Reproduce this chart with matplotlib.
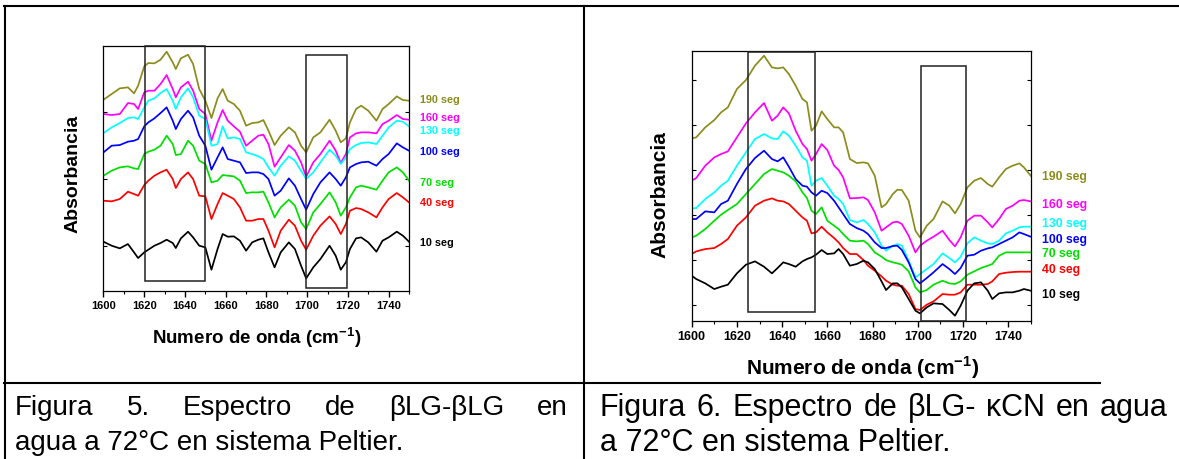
import matplotlib
matplotlib.use('Agg')
import matplotlib.pyplot as plt
from matplotlib.patches import Rectangle
from matplotlib.lines import Line2D
from matplotlib.ticker import MultipleLocator

plt.rcParams['font.family'] = ['Liberation Sans', 'DejaVu Sans']
plt.rcParams['mathtext.fontset'] = 'custom'
plt.rcParams['mathtext.rm'] = 'Liberation Sans:bold'
plt.rcParams['mathtext.bf'] = 'Liberation Sans:bold'
CAP_FONT = ['Liberation Sans Narrow', 'Liberation Sans', 'DejaVu Sans']

# ---- Figura 5: bLG-bLG (absorbancia, u.a.) ----
x_left = [1600, 1604, 1608, 1612, 1615, 1617, 1620, 1622, 1625, 1628,
          1631, 1634, 1635.5, 1638, 1641.5, 1644, 1647, 1650, 1653, 1656,
          1658.5, 1661, 1664, 1667, 1670, 1673, 1676, 1678.5, 1681, 1684,
          1687, 1691, 1694, 1697, 1699.5, 1703, 1706.5, 1711, 1714, 1716.5,
          1719, 1721, 1724, 1726.5, 1730, 1734, 1737, 1740, 1744, 1747,
          1750]
left_190 = [573, 590, 607, 610, 592, 615, 673, 683, 682, 693,
            717, 685, 665, 697, 708, 680, 605, 570, 518, 577,
            605, 570, 560, 540, 495, 503, 505, 512, 480, 437,
            465, 490, 475, 435, 415, 460, 475, 513, 480, 445,
            457, 505, 545, 555, 540, 510, 545, 560, 583, 572,
            570]
left_160 = [530, 527, 530, 563, 560, 545, 595, 600, 600, 620,
            647, 605, 580, 610, 627, 600, 545, 530, 450, 505,
            542, 510, 493, 477, 435, 450, 465, 468, 440, 372,
            400, 437, 420, 385, 342, 385, 410, 450, 420, 383,
            410, 460, 472, 475, 475, 472, 500, 510, 527, 515,
            513]
left_130 = [473, 490, 503, 518, 520, 515, 550, 570, 577, 593,
            605, 570, 545, 580, 607, 580, 525, 515, 435, 440,
            493, 457, 460, 455, 415, 410, 403, 395, 370, 345,
            375, 403, 390, 360, 335, 355, 385, 423, 405, 380,
            400, 425, 437, 443, 445, 440, 465, 490, 510, 507,
            493]
left_100 = [415, 435, 437, 447, 450, 455, 493, 505, 517, 533,
            550, 510, 485, 515, 540, 520, 465, 435, 363, 400,
            430, 395, 390, 385, 353, 355, 355, 350, 335, 285,
            300, 337, 315, 275, 243, 290, 325, 355, 335, 315,
            340, 370, 380, 385, 387, 375, 395, 410, 442, 430,
            420]
left_70 = [345, 360, 370, 373, 367, 365, 410, 417, 423, 435,
           465, 440, 407, 410, 450, 435, 390, 380, 325, 330,
           347, 345, 343, 330, 293, 295, 295, 297, 265, 220,
           250, 273, 255, 205, 185, 235, 260, 295, 265, 225,
           250, 280, 310, 315, 310, 303, 330, 355, 370, 355,
           330]
left_40 = [270, 268, 275, 297, 290, 285, 317, 330, 345, 355,
           363, 335, 308, 335, 355, 335, 285, 283, 215, 260,
           293, 285, 275, 250, 210, 210, 215, 215, 180, 130,
           180, 213, 195, 150, 123, 165, 195, 223, 200, 170,
           200, 240, 248, 245, 235, 220, 250, 275, 293, 280,
           265]
left_10 = [147, 135, 127, 140, 115, 98, 115, 123, 135, 143,
           153, 143, 128, 157, 177, 160, 135, 130, 63, 125,
           170, 162, 163, 150, 120, 145, 153, 157, 115, 70,
           115, 145, 125, 75, 37, 70, 95, 135, 105, 63,
           85, 125, 157, 160, 145, 117, 150, 160, 177, 165,
           147]

# ---- Figura 6: bLG-kCN ----
x_right = [1600, 1602, 1606, 1610, 1613, 1616, 1620, 1624, 1628, 1632,
           1635.5, 1638, 1640.5, 1643, 1646, 1649, 1651, 1653, 1655, 1657.5,
           1660, 1663, 1665, 1667, 1670, 1673, 1676, 1678, 1681, 1684,
           1686, 1689, 1691, 1693, 1696, 1699, 1701, 1704, 1707, 1711,
           1714, 1716.5, 1719, 1722, 1725, 1728, 1731, 1733, 1736, 1739,
           1742, 1745, 1747, 1750]
right_190 = [547, 550, 580, 602, 625, 640, 695, 722, 765, 795,
             760, 757, 760, 740, 705, 665, 655, 570, 585, 628,
             605, 580, 580, 565, 485, 473, 475, 472, 435, 340,
             350, 380, 393, 392, 360, 270, 250, 285, 305, 358,
             345, 322, 350, 400, 420, 428, 410, 402, 430, 455,
             465, 472, 460, 435]
right_160 = [420, 428, 465, 490, 500, 508, 550, 592, 625, 653,
             600, 615, 640, 622, 570, 530, 515, 480, 500, 530,
             512, 465, 452, 430, 367, 368, 370, 362, 325, 270,
             280, 295, 297, 290, 255, 205, 225, 240, 252, 270,
             242, 223, 250, 300, 315, 315, 295, 280, 305, 335,
             345, 360, 362, 358]
right_130 = [337, 338, 365, 385, 405, 420, 465, 505, 545, 560,
             547, 545, 568, 555, 525, 490, 480, 405, 420, 428,
             405, 375, 365, 350, 302, 295, 302, 290, 265, 225,
             210, 225, 230, 225, 180, 130, 140, 155, 170, 202,
             188, 175, 192, 232, 250, 240, 232, 230, 240, 262,
             270, 280, 282, 282]
right_100 = [305, 305, 328, 325, 350, 360, 410, 455, 488, 510,
             485, 478, 490, 462, 425, 405, 402, 385, 375, 390,
             383, 360, 340, 320, 290, 278, 270, 260, 235, 218,
             218, 224, 225, 212, 175, 125, 112, 128, 145, 170,
             155, 140, 158, 195, 198, 210, 217, 220, 230, 240,
             250, 265, 260, 252]
right_70 = [250, 255, 275, 300, 318, 332, 350, 380, 410, 440,
            455, 450, 445, 435, 418, 385, 368, 330, 320, 340,
            300, 285, 275, 260, 240, 238, 240, 230, 205, 192,
            182, 175, 172, 168, 148, 100, 85, 92, 108, 120,
            112, 110, 118, 138, 148, 158, 165, 170, 195, 205,
            205, 205, 205, 205]
right_40 = [200, 208, 215, 218, 230, 245, 285, 310, 345, 360,
            367, 360, 358, 350, 330, 310, 300, 262, 265, 282,
            265, 248, 235, 218, 200, 200, 182, 165, 150, 133,
            120, 108, 105, 105, 80, 35, 32, 48, 58, 80,
            78, 78, 85, 108, 108, 108, 110, 118, 140, 144,
            146, 147, 147, 147]
right_10 = [135, 125, 112, 95, 102, 108, 142, 168, 178, 162,
            142, 158, 175, 170, 162, 178, 185, 190, 198, 212,
            200, 202, 215, 200, 165, 170, 180, 175, 155, 118,
            92, 112, 112, 100, 65, 30, 22, 40, 52, 50,
            32, 15, 45, 90, 112, 115, 90, 65, 82, 85,
            85, 90, 95, 90]

labels = ['190 seg', '160 seg', '130 seg', '100 seg', '70 seg', '40 seg', '10 seg']
colors = ['#8c8c1c', '#ff00ff', '#00ffff', '#0000ff', '#00e000', '#ff0000', '#000000']

W, H = 1179, 460
fig = plt.figure(figsize=(W / 100, H / 100), dpi=100)


def fx(px):
    return px / W


def fy(py):
    return 1 - py / H


def panel(box, x, series, ylim, yticks, boxes, tick_fs):
    ax = fig.add_axes(box)
    for y, c in zip(series, colors):
        ax.plot(x, y, color=c, lw=1.25, solid_joinstyle='round')
    ax.set_xlim(1600, 1750)
    ax.set_ylim(*ylim)
    ax.xaxis.set_major_locator(MultipleLocator(20))
    ax.xaxis.set_minor_locator(MultipleLocator(10))
    ax.set_yticks(yticks)
    ax.set_yticklabels([])
    ax.tick_params(axis='x', which='major', direction='out', length=4, width=1,
                   labelsize=tick_fs, pad=3)
    ax.tick_params(axis='x', which='minor', direction='out', length=2.5, width=0.8)
    ax.tick_params(axis='y', direction='in', length=3, width=0.8, left=True, right=True)
    for lbl in ax.get_xticklabels():
        lbl.set_fontweight('bold')
    for s in ax.spines.values():
        s.set_linewidth(0.9)
    for (x0, x1, y0, y1) in boxes:
        ax.add_patch(Rectangle((x0, y0), x1 - x0, y1 - y0, fill=False,
                               ec='#222222', lw=1.1, clip_on=False, zorder=5))
    return ax


ax1 = panel([fx(103.5), fy(291.7), fx(409) - fx(103.5), fy(46.7) - fy(291.7)],
            x_left, [left_190, left_160, left_130, left_100, left_70, left_40, left_10],
            (0, 735), [135, 335, 535],
            [(1620.2, 1650, 28, 735), (1699.5, 1719.7, 7, 707)], 8)
ax2 = panel([fx(691.7), fy(321.7), fx(1030.7) - fx(691.7), fy(51.7) - fy(321.7)],
            x_right, [right_190, right_160, right_130, right_100, right_70, right_40, right_10],
            (0, 810), [47, 182, 317, 452, 587, 722],
            [(1624.7, 1654.4, 25, 805), (1701.5, 1721.4, -2, 763)], 9)

# etiquetas de las series
for lab, c, py in zip(labels, colors, [100, 117.7, 130.7, 152.3, 183.3, 202.7, 242.7]):
    fig.text(fx(420), fy(py), lab, color=c, fontsize=7.8, fontweight='bold', va='center')
for lab, c, py in zip(labels, colors, [176.7, 205, 224.3, 240, 254.3, 270, 295]):
    fig.text(fx(1042), fy(py), lab, color=c, fontsize=8.8, fontweight='bold', va='center')

xlab = r'Numero de onda (cm$^{\mathbf{-1}}$)'
fig.text(fx(256.5), fy(338), xlab, fontsize=13.5, fontweight='bold', ha='center', va='center')
fig.text(fx(863), fy(368), xlab, fontsize=15, fontweight='bold', ha='center', va='center')
fig.text(fx(73), fy(174), 'Absorbancia', fontsize=14, fontweight='bold', rotation=90,
         ha='center', va='center')
fig.text(fx(660), fy(195), 'Absorbancia', fontsize=15, fontweight='bold', rotation=90,
         ha='center', va='center')

# bordes de la tabla
for (xa, xb, ya, yb) in [(4, 1179, 7, 7), (5, 5, 7, 460), (584, 584, 7, 460),
                         (4, 584, 384, 384), (584, 1100, 384, 384)]:
    fig.add_artist(Line2D([fx(xa), fx(xb)], [fy(ya), fy(yb)], transform=fig.transFigure,
                          color='black', lw=1.5))

# pies de figura
renderer = fig.canvas.get_renderer()


def justify(words, x0, x1, py, fs):
    texts = [fig.text(0, fy(py), w, fontsize=fs, family=CAP_FONT, va='center', ha='left')
             for w in words]
    widths = [t.get_window_extent(renderer).width for t in texts]
    gap = ((x1 - x0) - sum(widths)) / (len(words) - 1)
    xp = x0
    for t, w in zip(texts, widths):
        t.set_x(fx(xp))
        xp += w + gap


justify('Figura 5. Espectro de βLG-βLG en'.split(), 15, 568, 408, 20)
fig.text(fx(15), fy(443), 'agua a 72°C en sistema Peltier.', fontsize=20,
         family=CAP_FONT, va='center')
justify('Figura 6. Espectro de βLG- κCN en agua'.split(), 600, 1168, 408, 22)
fig.text(fx(600), fy(443), 'a 72°C en sistema Peltier.', fontsize=22,
         family=CAP_FONT, va='center')

fig.savefig('out.png', dpi=100)
